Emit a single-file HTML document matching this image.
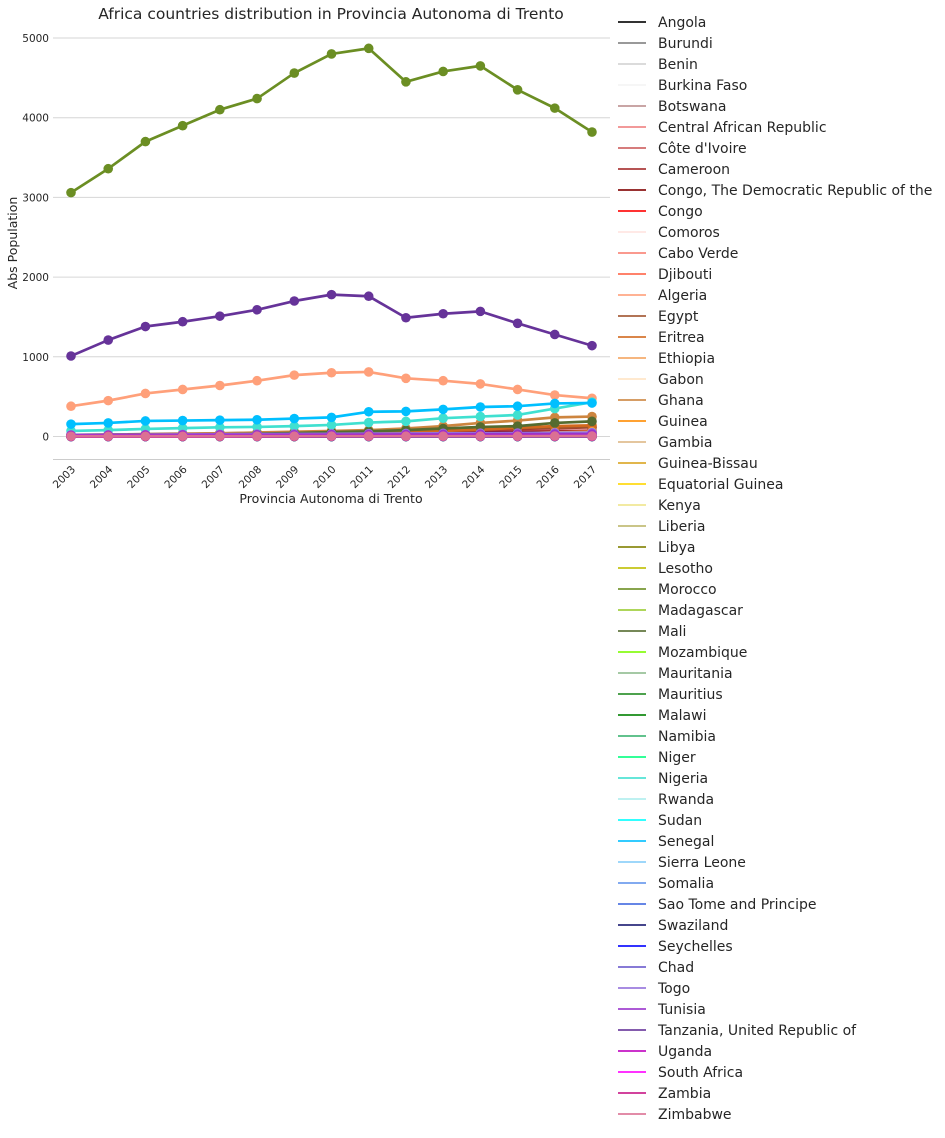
<!DOCTYPE html>
<html><head><meta charset="utf-8"><style>
html,body{margin:0;padding:0;background:#fff;}
body{width:945px;height:1134px;overflow:hidden;font-family:"DejaVu Sans","Liberation Sans",sans-serif;}
svg text{font-family:"DejaVu Sans","Liberation Sans",sans-serif;fill:#262626;}
</style></head><body>
<svg id="chart" width="945" height="1134" xmlns="http://www.w3.org/2000/svg">
<text x="331" y="19" font-size="15.5" text-anchor="middle">Africa countries distribution in Provincia Autonoma di Trento</text>
<text transform="translate(17,243) rotate(-90)" font-size="12.5" text-anchor="middle">Abs Population</text>
<text x="331" y="503" font-size="12.5" text-anchor="middle">Provincia Autonoma di Trento</text>
<line x1="53" y1="459.5" x2="610" y2="459.5" stroke="#ccc" stroke-width="1"/>
<g id="grid"></g><g id="series"></g><g id="xticks"></g><g id="legend"></g>
</svg>
<script>
const years = [2003,2004,2005,2006,2007,2008,2009,2010,2011,2012,2013,2014,2015,2016,2017];
const yTicks = [0,1000,2000,3000,4000,5000];
const countries = ["Angola","Burundi","Benin","Burkina Faso","Botswana","Central African Republic","Côte d'Ivoire","Cameroon","Congo, The Democratic Republic of the","Congo","Comoros","Cabo Verde","Djibouti","Algeria","Egypt","Eritrea","Ethiopia","Gabon","Ghana","Guinea","Gambia","Guinea-Bissau","Equatorial Guinea","Kenya","Liberia","Libya","Lesotho","Morocco","Madagascar","Mali","Mozambique","Mauritania","Mauritius","Malawi","Namibia","Niger","Nigeria","Rwanda","Sudan","Senegal","Sierra Leone","Somalia","Sao Tome and Principe","Swaziland","Seychelles","Chad","Togo","Tunisia","Tanzania, United Republic of","Uganda","South Africa","Zambia","Zimbabwe"];
const colors = ["#000000","#808080","#d3d3d3","#f5f5f5","#bc8f8f","#f08080","#cd5c5c","#a52a2a","#800000","#ff0000","#ffe4e1","#fa8072","#ff6347","#ffa07a","#a0522d","#d2691e","#f4a460","#ffe4c4","#cd853f","#ff8c00","#deb887","#daa520","#ffd700","#f0e68c","#bdb76b","#808000","#bfbf00","#6b8e23","#9acd32","#556b2f","#7cfc00","#8fbc8f","#228b22","#008000","#3cb371","#00ff7f","#40e0d0","#afeeee","#00ffff","#00bfff","#87cefa","#6495ed","#4169e1","#191970","#0000ff","#6a5acd","#9370db","#9932cc","#663399","#bf00bf","#ff00ff","#c71585","#db7093"];
const vAngola=[3,3,4,4,5,5,6,6,7,7,8,8,8,9,9];
const vBurundi=[2,2,2,3,3,3,3,4,4,4,4,5,5,5,5];
const vBenin=[5,6,6,7,8,9,10,11,12,13,14,15,15,16,16];
const vBurkina=[10,12,14,16,18,20,22,24,26,28,30,32,33,34,35];
const vBotswana=[1,1,1,1,1,1,1,1,1,1,1,1,1,1,1];
const vCAR=[1,1,1,1,1,1,2,2,2,2,2,2,2,2,2];
const vCote=[20,22,25,28,30,33,36,40,45,50,55,60,65,70,75];
const vCameroon=[10,14,18,22,28,34,40,48,56,65,75,85,95,105,115];
const vCongoDR=[15,17,19,21,24,27,30,33,36,40,45,50,55,58,62];
const vCongo=[5,6,7,8,9,10,11,12,13,14,15,16,17,18,19];
const vComoros=[1,1,1,1,1,1,1,1,1,1,1,1,1,1,1];
const vCaboVerde=[10,11,12,13,14,15,16,17,18,19,20,20,21,21,22];
const vDjibouti=[1,1,1,1,1,1,1,1,1,1,1,1,1,1,1];
const vAlgeria=[380,450,540,590,640,700,770,800,810,730,700,660,590,520,480];
const vEgypt=[20,25,30,35,40,45,50,55,65,75,85,95,105,110,120];
const vEritrea=[10,12,14,16,18,20,25,30,40,55,70,85,110,130,140];
const vEthiopia=[15,16,17,18,19,20,22,24,26,28,30,32,34,35,36];
const vGabon=[1,1,1,1,1,2,2,2,2,2,2,2,2,2,2];
const vGhana=[10,15,20,30,40,50,60,70,80,100,130,170,200,240,250];
const vGuinea=[5,6,7,8,10,12,14,16,20,24,30,36,42,50,60];
const vGambia=[2,2,3,3,4,5,6,8,10,14,20,30,40,50,55];
const vGuineaB=[2,2,2,3,3,3,4,4,5,5,6,7,8,9,10];
const vEqGuinea=[1,1,1,1,1,1,1,1,1,1,1,1,1,1,1];
const vKenya=[8,9,10,11,12,13,14,15,16,17,18,19,20,20,21];
const vLiberia=[2,2,2,3,3,3,4,4,5,6,7,8,9,10,12];
const vLibya=[3,3,3,4,4,4,5,5,5,6,6,6,7,7,7];
const vLesotho=[1,1,1,1,1,1,1,1,1,1,1,1,1,1,1];
const vMorocco=[3060,3360,3700,3900,4100,4240,4560,4800,4870,4450,4580,4650,4350,4120,3820];
const vMadagascar=[8,9,10,11,12,13,14,15,16,17,18,18,19,19,20];
const vMali=[5,8,12,18,25,35,45,55,65,80,100,120,130,170,190];
const vMozambique=[2,2,2,2,2,3,3,3,3,3,3,4,4,4,4];
const vMauritania=[3,3,4,4,5,5,6,6,7,7,8,8,9,9,10];
const vMauritius=[15,16,17,18,19,20,21,22,23,24,25,25,26,26,26];
const vMalawi=[1,1,1,1,1,1,1,1,2,2,2,2,2,2,2];
const vNamibia=[1,1,1,1,1,1,1,1,1,1,1,1,1,1,1];
const vNiger=[2,2,3,3,4,4,5,5,6,7,8,9,10,11,12];
const vNigeria=[70,80,95,105,115,120,130,145,175,190,230,250,270,350,430];
const vRwanda=[2,2,2,3,3,3,3,4,4,4,5,5,5,6,6];
const vSudan=[3,3,4,4,5,6,7,8,9,10,11,12,13,14,15];
const vSenegal=[155,170,195,200,205,210,225,240,310,315,340,370,380,415,420];
const vSierraLeone=[2,2,2,3,3,3,4,4,5,5,6,7,8,9,10];
const vSomalia=[10,11,12,12,13,13,14,14,15,15,16,16,17,17,18];
const vSaoTome=[1,1,1,1,1,1,1,1,1,1,1,1,1,1,1];
const vSwaziland=[1,1,1,1,1,1,1,1,1,1,1,1,1,1,1];
const vSeychelles=[2,2,2,2,2,2,2,2,2,2,2,2,2,2,2];
const vChad=[1,1,1,1,1,1,2,2,2,2,2,2,2,2,2];
const vTogo=[20,22,24,26,28,30,32,34,36,38,40,42,44,46,48];
const vTunisia=[15,16,18,19,20,21,22,23,24,25,26,27,28,29,30];
const vTanzania=[1010,1210,1380,1440,1510,1590,1700,1780,1760,1490,1540,1570,1420,1280,1140];
const vUganda=[2,2,2,2,3,3,3,3,3,4,4,4,4,4,4];
const vSouthAfrica=[3,3,3,3,3,3,4,4,4,4,4,4,4,4,4];
const vZambia=[2,2,2,2,2,2,2,3,3,3,3,3,3,3,3];
const vZimbabwe=[3,3,3,3,3,4,4,4,4,4,4,4,4,5,5];
const values=[vAngola,vBurundi,vBenin,vBurkina,vBotswana,vCAR,vCote,vCameroon,vCongoDR,vCongo,vComoros,vCaboVerde,vDjibouti,vAlgeria,vEgypt,vEritrea,vEthiopia,vGabon,vGhana,vGuinea,vGambia,vGuineaB,vEqGuinea,vKenya,vLiberia,vLibya,vLesotho,vMorocco,vMadagascar,vMali,vMozambique,vMauritania,vMauritius,vMalawi,vNamibia,vNiger,vNigeria,vRwanda,vSudan,vSenegal,vSierraLeone,vSomalia,vSaoTome,vSwaziland,vSeychelles,vChad,vTogo,vTunisia,vTanzania,vUganda,vSouthAfrica,vZambia,vZimbabwe];

const NS="http://www.w3.org/2000/svg";
const x0=71,x1=592,y0=436.5,yPer=79.7/1000;
function xs(i){return x0+(x1-x0)*i/(years.length-1);}
function ys(v){return y0-v*yPer;}
function mk(tag,parent,attrs){const e=document.createElementNS(NS,tag);for(const k in attrs)e.setAttribute(k,attrs[k]);parent.appendChild(e);return e;}
const grid=document.getElementById('grid');
yTicks.forEach(t=>{
  const l=mk('line',grid,{x1:53,x2:610,y1:ys(t),y2:ys(t),stroke:'#d6d6d6','stroke-width':1});
  
  
  const tx=mk('text',grid,{x:49,y:ys(t)+4,'font-size':10.5,'text-anchor':'end'});
  tx.textContent=t;
  
  
});
const xt=document.getElementById('xticks');
years.forEach((yr,i)=>{
  const tx=mk('text',xt,{transform:`translate(${xs(i)+5},${470}) rotate(-45)`,'font-size':10.5,'text-anchor':'end'});
  tx.textContent=yr;
  
  
});
const sg=document.getElementById('series');
values.forEach((vals,s)=>{
  const g=mk('g',sg,{});
  
  
  const pts=vals.map((v,i)=>xs(i)+','+ys(v)).join(' ');
  mk('polyline',g,{points:pts,fill:'none',stroke:colors[s],'stroke-width':2.7,'stroke-linejoin':'round'});
  vals.forEach((v,i)=>{
    const c=mk('circle',g,{cx:xs(i),cy:ys(v),r:4.8,fill:colors[s]});
    
    
  });
});
const lg=document.getElementById('legend');
countries.forEach((c,i)=>{
  const y=22+i*21.0;
  const g=mk('g',lg,{});
  
  
  mk('line',g,{x1:618,x2:646,y1:y,y2:y,stroke:colors[i],'stroke-width':2,opacity:0.8});
  const t=mk('text',g,{x:658,y:y+5,'font-size':14});
  t.textContent=c;
});
</script>
</body></html>
